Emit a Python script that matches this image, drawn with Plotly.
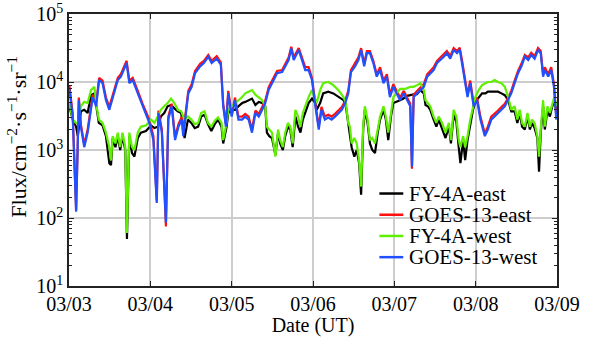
import plotly.graph_objects as go

# Time stamps in hours since 03/03 00:00 UT
t_goes = [0.1, 1.1, 2.1, 2.9, 3.5, 4.5, 5.5, 7.0, 8.0, 8.9, 9.9, 10.9, 11.9, 12.9, 14.4, 15.3,
          17.0, 17.8, 18.8, 20.3, 21.7, 23.7, 24.9, 25.9, 26.4, 27.4, 28.6, 29.3, 30.3, 31.3,
          32.3, 33.3, 33.7, 34.5, 35.2, 36.2, 37.2, 38.7, 39.8, 41.1, 42.1, 43.6, 44.8, 45.5,
          46.3, 47.0, 48.0, 49.0, 50.0, 51.1, 52.0, 53.0, 54.0, 55.0, 56.0, 57.0, 57.9, 58.9,
          59.9, 61.4, 62.9, 63.8, 64.8, 65.6, 66.3, 67.8, 68.8, 69.7, 70.7, 71.7, 72.7, 73.7,
          74.5, 75.5, 76.5, 77.5, 78.5, 79.5, 80.5, 81.5, 82.4, 83.2, 84.4, 85.4, 86.2, 87.1,
          87.9, 88.8, 89.8, 90.8, 91.8, 92.8, 93.8, 94.7, 95.7, 96.7, 97.7, 98.8, 99.7, 100.7,
          101.2, 101.7, 102.7, 103.7, 104.7, 105.7, 106.6, 107.6, 108.6, 109.6, 110.6, 111.5,
          112.5, 113.5, 114.5, 115.3, 116.0, 116.9, 117.6, 118.4, 119.4, 120.4, 121.4, 122.7,
          123.6, 124.6, 125.6, 126.6, 127.6, 128.6, 129.6, 130.5, 131.5, 132.5, 133.5, 134.5,
          135.5, 136.4, 137.4, 138.4, 139.2, 139.9, 140.4, 141.4, 142.3, 143.1, 143.8]

goes_west = [8.0e3, 3.1e3, 124, 5.4e3, 2.2e3, 1.1e3, 1.8e3, 6.0e3, 4.4e3, 1.07e4, 9.6e3, 5.4e3,
             3.9e3, 6.0e3, 1.07e4, 1.2e4, 1.9e4, 9.6e3, 1.07e4, 6.8e3, 4.4e3, 2.5e3, 1.4e3, 166,
             3.5e3, 1.8e3, 85, 2.8e3, 4.4e3, 1.4e3, 2.2e3, 2.8e3, 1.6e3, 3.5e3, 6.8e3, 8.5e3,
             1.35e4, 1.7e4, 1.9e4, 2.35e4, 1.9e4, 2.2e4, 1.8e4, 4.4e3, 2.2e3, 6.8e3, 3.1e3, 5.4e3,
             2.8e3, 2.8e3, 3.1e3, 2.8e3, 1.8e3, 3.5e3, 3.1e3, 3.9e3, 4.9e3, 7.6e3, 9.6e3, 1.35e4,
             1.4e4, 1.7e4, 2.1e4, 3.1e4, 2.1e4, 2.95e4, 2.1e4, 1.5e4, 1.5e4, 1.07e4, 4.4e3, 2.0e3,
             3.9e3, 2.8e3, 3.0e3, 2.8e3, 3.1e3, 3.5e3, 3.9e3, 4.9e3, 6.8e3, 1.4e4, 1.7e4, 2.1e4,
             2.95e4, 1.7e4, 2.65e4, 2.65e4, 1.9e4, 1.2e4, 1.5e4, 9.6e3, 1.2e4, 6.0e3, 8.5e3, 6.8e3,
             5.4e3, 6.8e3, 5.4e3, 4.4e3, 570, 6.0e3, 6.8e3, 7.6e3, 8.5e3, 1.2e4, 1.35e4, 1.5e4,
             1.9e4, 2.1e4, 2.35e4, 2.65e4, 2.2e4, 2.95e4, 2.65e4, 3.0e4, 1.9e4, 1.07e4, 6.0e3,
             9.6e3, 4.4e3, 5.4e3, 2.8e3, 1.6e3, 2.0e3, 2.8e3, 3.1e3, 3.5e3, 3.9e3, 4.4e3, 5.4e3,
             6.8e3, 9.6e3, 1.35e4, 1.7e4, 2.35e4, 2.1e4, 2.5e4, 2.2e4, 2.95e4, 2.65e4, 1.2e4,
             1.5e4, 1.2e4, 1.5e4, 8.5e3, 2.8e3]

goes_east = [9.0e3, 3.4e3, 130, 5.9e3, 2.4e3, 1.2e3, 2.0e3, 6.5e3, 4.8e3, 1.15e4, 1.05e4, 5.9e3,
             4.3e3, 6.6e3, 1.15e4, 1.3e4, 2.05e4, 1.05e4, 1.15e4, 7.4e3, 4.8e3, 2.8e3, 1.6e3, 180,
             3.8e3, 2.0e3, 75, 3.1e3, 4.8e3, 1.55e3, 2.4e3, 3.1e3, 1.75e3, 3.8e3, 7.4e3, 9.3e3,
             1.45e4, 1.85e4, 2.05e4, 2.5e4, 2.05e4, 2.4e4, 1.95e4, 4.8e3, 2.4e3, 7.4e3, 3.4e3, 5.9e3,
             3.1e3, 3.1e3, 3.4e3, 3.1e3, 2.0e3, 3.8e3, 3.4e3, 4.3e3, 5.3e3, 8.3e3, 1.05e4, 1.45e4,
             1.5e4, 1.85e4, 2.3e4, 3.3e4, 2.3e4, 3.15e4, 2.3e4, 1.65e4, 1.65e4, 1.15e4, 4.8e3, 2.2e3,
             4.3e3, 3.1e3, 3.3e3, 3.1e3, 3.4e3, 3.8e3, 4.3e3, 5.3e3, 7.4e3, 1.5e4, 1.85e4, 2.3e4,
             3.15e4, 1.85e4, 2.85e4, 2.85e4, 2.05e4, 1.3e4, 1.65e4, 1.05e4, 1.3e4, 6.5e3, 9.3e3, 7.4e3,
             5.9e3, 7.4e3, 5.9e3, 4.8e3, 530, 6.5e3, 7.4e3, 8.3e3, 9.3e3, 1.3e4, 1.45e4, 1.65e4,
             2.05e4, 2.3e4, 2.5e4, 2.85e4, 2.4e4, 3.15e4, 2.85e4, 3.2e4, 2.05e4, 1.15e4, 6.5e3,
             1.05e4, 4.8e3, 5.9e3, 3.1e3, 1.75e3, 2.2e3, 3.1e3, 3.4e3, 3.8e3, 4.3e3, 4.8e3, 5.9e3,
             7.4e3, 1.05e4, 1.45e4, 1.85e4, 2.5e4, 2.3e4, 2.7e4, 2.4e4, 3.15e4, 2.85e4, 1.3e4,
             1.65e4, 1.3e4, 1.65e4, 9.3e3, 3.1e3]

t_fy = [0.1, 1.1, 2.1, 2.6, 3.5, 4.5, 5.5, 6.5, 7.5, 8.0, 8.8, 9.9, 10.9, 11.9, 12.4, 12.9, 13.7,
        14.4, 15.1, 15.8, 16.6, 17.1, 17.8, 18.6, 19.3, 20.3, 21.2, 22.7, 24.2, 25.2, 26.2, 27.1,
        28.1, 29.1, 30.1, 31.1, 32.1, 33.1, 34.1, 35.1, 36.1, 37.1, 38.1, 39.0, 40.0, 41.0, 42.0,
        43.0, 44.0, 45.0, 45.5, 46.5, 47.0, 48.0, 49.0, 50.0, 51.1, 52.0, 53.0, 54.0, 55.0, 56.0,
        57.0, 57.9, 58.4, 59.1, 59.9, 60.9, 61.7, 62.3, 63.1, 63.8, 64.6, 65.3, 66.0, 66.8, 67.6,
        68.3, 69.0, 69.7, 70.7, 71.7, 72.7, 73.1, 74.1, 75.0, 76.5, 78.0, 79.5, 81.0, 81.7, 82.4,
        82.9, 83.4, 84.2, 84.9, 85.6, 86.2, 86.8, 87.3, 88.1, 88.8, 89.5, 90.3, 91.1, 91.8, 92.8,
        93.5, 94.2, 95.0, 95.7, 96.7, 97.7, 98.7, 99.5, 100.7, 101.7, 102.7, 103.7, 104.7, 105.2,
        105.9, 106.6, 107.6, 108.4, 109.1, 110.1, 111.1, 112.1, 112.7, 113.5, 114.3, 115.0, 115.5,
        116.3, 116.9, 117.6, 118.4, 119.2, 119.9, 120.9, 121.9, 122.9, 123.6, 124.6, 125.6, 126.6,
        127.6, 128.6, 129.6, 130.5, 131.5, 132.3, 133.0, 133.7, 134.5, 135.3, 136.0, 136.6, 137.4,
        138.2, 138.7, 139.2, 139.9, 140.4, 141.2, 141.9, 142.6, 143.2, 143.9]

fy_west = [4.9e3, 2.8e3, 2.5e3, 2.5e3, 4.4e3, 5.1e3, 4.9e3, 7.6e3, 8.5e3, 4.9e3, 2.8e3, 2.5e3,
           1.8e3, 1.1e3, 700, 1.6e3, 1.25e3, 1.8e3, 1.1e3, 1.8e3, 1.1e3, 60, 1.8e3, 1.1e3, 1.0e3,
           1.8e3, 2.2e3, 2.3e3, 2.8e3, 2.5e3, 3.1e3, 3.9e3, 4.4e3, 4.9e3, 5.7e3, 4.9e3, 3.9e3,
           3.7e3, 2.8e3, 3.1e3, 2.8e3, 2.4e3, 2.5e3, 3.5e3, 3.7e3, 2.5e3, 2.2e3, 2.7e3, 3.0e3,
           2.5e3, 1.4e3, 2.5e3, 3.9e3, 4.4e3, 4.9e3, 5.4e3, 6.0e3, 6.8e3, 7.2e3, 7.6e3, 6.5e3,
           6.0e3, 5.4e3, 4.4e3, 2.2e3, 2.0e3, 1.8e3, 800, 2.0e3, 1.4e3, 1.1e3, 1.8e3, 2.5e3, 2.2e3,
           1.25e3, 3.9e3, 3.1e3, 2.2e3, 3.5e3, 4.4e3, 6.0e3, 7.6e3, 5.4e3, 4.9e3, 7.6e3, 9.6e3,
           1.0e4, 9.0e3, 7.6e3, 6.0e3, 4.9e3, 2.5e3, 2.2e3, 1.25e3, 1.5e3, 1.25e3, 710, 290, 2.2e3,
           4.4e3, 2.8e3, 1.4e3, 1.5e3, 1.25e3, 2.0e3, 3.1e3, 4.4e3, 3.1e3, 1.8e3, 3.5e3, 6.0e3,
           6.8e3, 7.9e3, 7.9e3, 8.0e3, 8.5e3, 8.5e3, 9.0e3, 9.6e3, 7.6e3, 5.4e3, 4.9e3, 4.4e3,
           3.1e3, 2.5e3, 3.1e3, 2.5e3, 1.8e3, 2.5e3, 1.4e3, 3.9e3, 3.1e3, 1.4e3, 1.1e3, 1.6e3,
           1.1e3, 1.6e3, 2.8e3, 4.4e3, 6.0e3, 7.6e3, 9.0e3, 9.6e3, 1.0e4, 1.0e4, 1.07e4, 1.0e4,
           9.6e3, 8.5e3, 6.0e3, 3.9e3, 4.4e3, 2.8e3, 3.9e3, 2.5e3, 2.2e3, 3.5e3, 2.2e3, 2.8e3,
           2.5e3, 1.6e3, 800, 2.0e3, 5.4e3, 2.2e3, 4.4e3, 3.5e3, 4.9e3, 6.0e3, 4.4e3]

fy_east = [4.4e3, 2.8e3, 2.2e3, 1.6e3, 3.7e3, 3.9e3, 3.5e3, 6.4e3, 6.8e3, 4.4e3, 2.5e3, 2.3e3,
           1.6e3, 640, 600, 1.5e3, 1.1e3, 1.6e3, 1.0e3, 1.6e3, 1.0e3, 49, 1.6e3, 900, 800, 1.5e3,
           1.8e3, 1.9e3, 2.3e3, 2.1e3, 2.2e3, 3.1e3, 3.5e3, 4.4e3, 4.6e3, 4.1e3, 3.7e3, 3.5e3,
           1.5e3, 2.8e3, 2.5e3, 2.1e3, 2.2e3, 3.1e3, 3.3e3, 2.4e3, 1.9e3, 2.4e3, 2.8e3, 2.2e3,
           1.25e3, 2.2e3, 3.5e3, 3.9e3, 3.9e3, 4.4e3, 4.9e3, 5.1e3, 5.4e3, 5.7e3, 4.6e3, 5.1e3,
           4.9e3, 4.4e3, 1.8e3, 1.6e3, 1.5e3, 850, 1.8e3, 1.25e3, 1.0e3, 1.6e3, 2.2e3, 2.0e3,
           1.1e3, 3.1e3, 2.2e3, 1.8e3, 2.8e3, 3.5e3, 4.9e3, 5.7e3, 4.9e3, 3.9e3, 4.9e3, 6.8e3,
           7.2e3, 6.8e3, 6.0e3, 5.4e3, 4.4e3, 2.4e3, 1.5e3, 1.1e3, 800, 1.0e3, 640, 220, 2.0e3,
           3.9e3, 2.5e3, 1.25e3, 1.0e3, 900, 1.8e3, 2.8e3, 3.9e3, 2.8e3, 1.4e3, 3.1e3, 4.9e3,
           5.1e3, 5.4e3, 5.7e3, 6.2e3, 6.4e3, 6.6e3, 6.6e3, 7.6e3, 6.8e3, 4.6e3, 4.4e3, 3.9e3,
           2.8e3, 2.2e3, 2.8e3, 2.1e3, 1.5e3, 2.2e3, 1.25e3, 3.3e3, 2.6e3, 1.1e3, 640, 1.4e3,
           710, 1.4e3, 2.4e3, 3.9e3, 5.1e3, 6.0e3, 6.8e3, 6.8e3, 7.2e3, 7.2e3, 7.2e3, 7.2e3,
           6.8e3, 6.4e3, 5.4e3, 3.7e3, 3.7e3, 2.5e3, 3.5e3, 2.2e3, 2.0e3, 3.1e3, 2.0e3, 2.5e3,
           2.1e3, 1.5e3, 480, 1.8e3, 4.4e3, 2.0e3, 3.9e3, 3.1e3, 4.4e3, 5.1e3, 3.9e3]

day_hours = [0, 24, 48, 72, 96, 120, 144]
day_labels = ["03/03", "03/04", "03/05", "03/06", "03/07", "03/08", "03/09"]
flux_ticks = [1e1, 1e2, 1e3, 1e4, 1e5]
flux_labels = ["10<sup>1</sup>", "10<sup>2</sup>", "10<sup>3</sup>", "10<sup>4</sup>", "10<sup>5</sup>"]

FONT = "Liberation Serif"
AXIS = "#222222"

series = [
    ("FY-4A-east", t_fy, fy_east, "#000000"),
    ("GOES-13-east", t_goes, goes_east, "#ff1010"),
    ("FY-4A-west", t_fy, fy_west, "#5ef000"),
    ("GOES-13-west", t_goes, goes_west, "#2050ff"),
]

fig = go.Figure()
for name, t, v, color in series:
    fig.add_trace(go.Scatter(x=t, y=v, mode="lines", name=name, showlegend=False,
                             line=dict(color=color, width=2.2)))

# Legend drawn as short line samples plus labels, stacked in the lower right
leg_x0, leg_x1, leg_top, leg_step = 0.636, 0.685, 0.34, 0.078
shapes, notes = [], []
for i, (name, _, _, color) in enumerate(series):
    yy = leg_top - i * leg_step
    shapes.append(dict(type="line", xref="paper", yref="paper", x0=leg_x0, x1=leg_x1,
                       y0=yy, y1=yy, line=dict(color=color, width=2.5)))
    notes.append(dict(xref="paper", yref="paper", x=leg_x1 + 0.01, y=yy, text=name,
                      showarrow=False, xanchor="left", yanchor="middle", height=20,
                      valign="middle", borderpad=0,
                      font=dict(family=FONT, size=21, color="black")))

# Rotated y-axis title
notes.append(dict(xref="paper", yref="paper", x=-0.106, y=0.55, xanchor="center",
                  yanchor="middle", textangle=-90, showarrow=False,
                  text="Flux/cm<sup>−2</sup>·s<sup>−1</sup>·sr<sup>−1</sup>",
                  font=dict(family=FONT, size=22, color="black")))

fig.update_layout(
    width=592, height=337,
    margin=dict(l=69, r=35, t=14, b=51),
    paper_bgcolor="white", plot_bgcolor="white",
    font=dict(family=FONT, size=20, color="black"),
    showlegend=False, shapes=shapes, annotations=notes,
)

fig.update_xaxes(
    range=[0, 144], tickmode="array", tickvals=day_hours, ticktext=day_labels,
    showgrid=True, gridcolor="#cdcdcd", gridwidth=1.5,
    showline=True, linecolor=AXIS, linewidth=1.5, mirror="ticks",
    ticks="inside", ticklen=5, tickcolor=AXIS, tickwidth=1.2,
    tickfont=dict(family=FONT, size=20), zeroline=False, automargin=False,
    ticklabelstandoff=-1,
    title=dict(text="Date (UT)", font=dict(family=FONT, size=20), standoff=1),
)

minor_vals = [m * 10 ** d for d in range(1, 5) for m in range(2, 10)]
fig.update_yaxes(
    type="log", range=[1, 5], tickmode="array", tickvals=flux_ticks, ticktext=flux_labels,
    showgrid=True, gridcolor="#cdcdcd", gridwidth=1.5,
    showline=True, linecolor=AXIS, linewidth=1.5, mirror="ticks",
    ticks="inside", ticklen=5, tickcolor=AXIS, tickwidth=1.2,
    minor=dict(tickmode="array", tickvals=minor_vals, ticks="inside", ticklen=3,
               tickcolor=AXIS, tickwidth=1, showgrid=False),
    tickfont=dict(family=FONT, size=20), zeroline=False, automargin=False,
)

fig.write_html("out.html")
